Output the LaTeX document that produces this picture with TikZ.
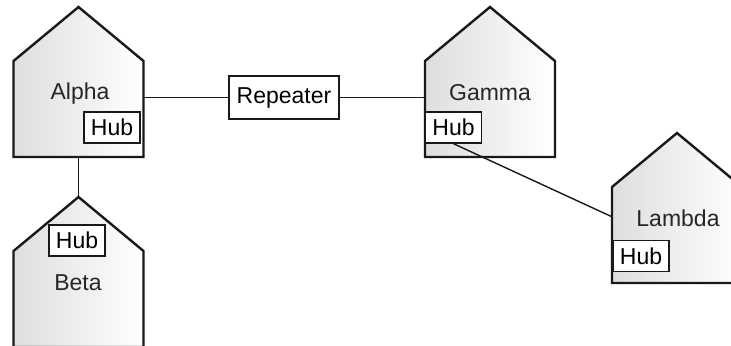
\documentclass[tikz,border=0pt]{standalone}
\usepackage{fontspec}
\setmainfont{Liberation Sans}
\usetikzlibrary{calc}

\tikzset{
  house/.style={draw=black!90, line width=1.2pt, line join=miter, left color=black!13, right color=white},
  hub/.style={draw=black!90, line width=0.7pt, fill=white, inner sep=0pt, minimum width=28pt, minimum height=15.5pt},
  relay/.style={draw=black!90, line width=0.7pt, fill=white, inner sep=0pt, minimum width=55pt, minimum height=21.5pt},
  lbl/.style={anchor=base, text=black!85},
  wire/.style={draw=black!90, line width=0.7pt}
}
% house: name, apex x, apex y
\newcommand{\house}[3]{%
  \draw[house] (#2-65,#3+54) -- (#2,#3) -- (#2+65,#3+54) -- (#2+65,#3+150) -- (#2-65,#3+150) -- cycle;
  \coordinate (#1-top) at (#2,#3);
  \node[inner sep=0pt, minimum width=65pt, minimum height=48pt] (#1) at (#2,#3+102) {};
}

\begin{document}
\begin{tikzpicture}[x=0.5pt, y=-0.5pt, every node/.style={font=\fontsize{11.5}{13}\selectfont}]
\useasboundingbox (0,0) rectangle (731,345);
\clip (0,0) rectangle (731,345);
\house{alpha}{78.5}{7}
\house{beta}{78.5}{197}
\house{gamma}{490}{7}
\house{lambda}{677}{133}
\node[lbl] (alpha-lbl) at (80,99) {Alpha};
\node[lbl] (beta-lbl) at (78,290) {Beta};
\node[lbl] (gamma-lbl) at (490,100) {Gamma};
\node[lbl] (lambda-lbl) at (678,226) {Lambda};
\node[hub] (alpha-hub) at (112,127.5) {Hub};
\node[hub] (beta-hub) at (77,240.5) {Hub};
\node[hub] (gamma-hub) at (453.5,127.5) {Hub};
\node[hub] (lambda-hub) at (641,256) {Hub};
\node[relay] (repeater) at (284,97.5) {Repeater};
\draw[wire] (repeater.west) -- (repeater.west -| alpha.east);
\draw[wire] (repeater.east) -- (repeater.east -| gamma.west);
\draw[wire] (alpha.south) -- (beta-top);
\draw[wire] (gamma-hub.south) -- ($(lambda.north west)!0.31!(lambda.south west)$);
\end{tikzpicture}
\end{document}
